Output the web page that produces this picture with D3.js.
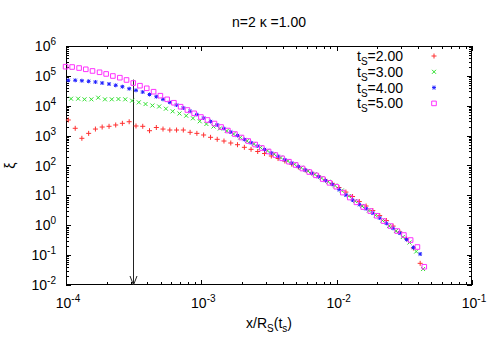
<!DOCTYPE html>
<html>
<head>
<meta charset="utf-8">
<script src="https://cdn.jsdelivr.net/npm/d3@7/dist/d3.min.js"></script>
<style>
    body { margin: 0; background: #fff; }
    text { font-family: "Liberation Sans", Arial, Helvetica, sans-serif; fill: #000; }
</style>
</head>
<body>
<div id="chart"></div>
<script>
// x/R_S(t_s) bins (each run has its own scaling)
const xsRB = [1.04e-4, 1.17e-4, 1.31e-4, 1.47e-4, 1.65e-4, 1.85e-4, 2.08e-4, 2.33e-4, 2.61e-4, 2.93e-4,
    3.29e-4, 3.69e-4, 4.14e-4, 4.65e-4, 5.21e-4, 5.85e-4, 6.56e-4, 7.36e-4, 8.26e-4, 9.27e-4,
    1.04e-3, 1.17e-3, 1.31e-3, 1.47e-3, 1.65e-3, 1.85e-3, 2.08e-3, 2.33e-3, 2.61e-3, 2.93e-3,
    3.29e-3, 3.69e-3, 4.14e-3, 4.65e-3, 5.21e-3, 5.85e-3, 6.56e-3, 7.36e-3, 8.26e-3, 9.27e-3,
    1.04e-2, 1.17e-2, 1.31e-2, 1.47e-2, 1.65e-2, 1.85e-2, 2.08e-2, 2.33e-2, 2.61e-2, 2.93e-2,
    3.29e-2, 3.69e-2, 4.14e-2];
const xsG = [1.09e-4, 1.23e-4, 1.37e-4, 1.54e-4, 1.73e-4, 1.94e-4, 2.18e-4, 2.44e-4, 2.74e-4, 3.08e-4,
    3.45e-4, 3.87e-4, 4.35e-4, 4.88e-4, 5.47e-4, 6.14e-4, 6.89e-4, 7.73e-4, 8.67e-4, 9.73e-4,
    1.09e-3, 1.23e-3, 1.37e-3, 1.54e-3, 1.73e-3, 1.94e-3, 2.18e-3, 2.44e-3, 2.74e-3, 3.08e-3,
    3.45e-3, 3.87e-3, 4.35e-3, 4.88e-3, 5.47e-3, 6.14e-3, 6.89e-3, 7.73e-3, 8.67e-3, 9.73e-3,
    1.09e-2, 1.23e-2, 1.37e-2, 1.54e-2, 1.73e-2, 1.94e-2, 2.18e-2, 2.44e-2, 2.74e-2, 3.08e-2,
    3.45e-2, 3.87e-2, 4.35e-2];
const xsM = [0.993e-4, 1.11e-4, 1.25e-4, 1.40e-4, 1.57e-4, 1.77e-4, 1.98e-4, 2.22e-4, 2.50e-4, 2.80e-4,
    3.14e-4, 3.52e-4, 3.95e-4, 4.44e-4, 4.98e-4, 5.59e-4, 6.27e-4, 7.03e-4, 7.89e-4, 8.85e-4,
    9.93e-4, 1.11e-3, 1.25e-3, 1.40e-3, 1.57e-3, 1.77e-3, 1.98e-3, 2.22e-3, 2.50e-3, 2.80e-3,
    3.14e-3, 3.52e-3, 3.95e-3, 4.44e-3, 4.98e-3, 5.59e-3, 6.27e-3, 7.03e-3, 7.89e-3, 8.85e-3,
    9.93e-3, 1.11e-2, 1.25e-2, 1.40e-2, 1.57e-2, 1.77e-2, 1.98e-2, 2.22e-2, 2.50e-2, 2.80e-2,
    3.14e-2, 3.52e-2, 3.95e-2, 4.44e-2];

// xi values per run
const xiT2 = [3340, 1760, 813, 1190, 1660, 1940, 2050, 2270, 2580, 2920,
    2100, 2050, 1460, 1870, 1660, 1540, 1540, 1540, 1290, 1190,
    1050, 877, 752, 660, 566, 497, 406, 348, 294, 252,
    208, 171, 141, 112, 89, 70.6, 56, 44.5, 32.7, 24.9,
    18.3, 12.9, 9.16, 6.22, 4.40, 3.11, 2.11, 1.44, 0.94, 0.593,
    0.346, 0.173, 0.0531];
const xiT3 = [17200, 17200, 16400, 16400, 18600, 16400, 16400, 16800, 16400, 14800,
    13000, 11400, 10200, 9440, 7960, 6510, 5500, 4640, 3800, 3020,
    2450, 2020, 1730, 1430, 1130, 865, 660, 524, 400, 310,
    242, 185, 141, 110, 84.3, 65.3, 50.7, 38.1, 28.6, 21.4,
    14.5, 9.51, 6.47, 4.40, 3.11, 2.15, 1.44, 0.94, 0.641, 0.404,
    0.264, 0.132, 0.0342];
const xiT4 = [71100, 71100, 68900, 65800, 62400, 57700, 53400, 48300, 43400, 37200,
    32900, 28800, 23800, 20100, 16400, 13000, 10600, 8400, 6510, 5090,
    3890, 2970, 2270, 1730, 1320, 1010, 741, 579, 449, 343,
    262, 203, 156, 121, 92.5, 70.6, 54.7, 42.1, 31.4, 23.4,
    15.7, 10.3, 6.98, 4.94, 3.57, 2.56, 1.75, 1.16, 0.789, 0.548,
    0.333, 0.179, 0.109];
const xiT5 = [203000, 198000, 183000, 166000, 146000, 132000, 116000, 99100, 86900, 72800,
    57700, 46900, 38400, 29500, 21700, 16400, 12600, 9290, 7200, 5580,
    4200, 3340, 2540, 1940, 1480, 1130, 865, 660, 504, 385,
    294, 224, 174, 134, 104, 79.2, 60.5, 46.9, 35.2, 26.3,
    19.5, 12.4, 8.47, 5.85, 4.07, 2.99, 2.08, 1.38, 0.94, 0.641,
    0.471, 0.320, 0.187, 0.0408];

const runLabels = ["2.00", "3.00", "4.00", "5.00"];
const xTickExps = [-4, -3, -2, -1];
const yTickExps = [-2, -1, 0, 1, 2, 3, 4, 5, 6];
const arrowX = 3.11e-4, arrowYTop = 7.5e4;

let width = 500,
    height = 350,
    margin = {top: 46, right: 28, bottom: 65, left: 66};

let runs = [
    {label: runLabels[0], xs: xsRB, ys: xiT2, color: "#ff3030", symbol: "plus"},
    {label: runLabels[1], xs: xsG, ys: xiT3, color: "#30e030", symbol: "cross"},
    {label: runLabels[2], xs: xsRB, ys: xiT4, color: "#2020ff", symbol: "star"},
    {label: runLabels[3], xs: xsM, ys: xiT5, color: "#ff30ff", symbol: "box"}
];

const svg = d3.select("#chart").append("svg")
    .attr("width", width)
    .attr("height", height);

const x = d3.scaleLog()
    .domain([1e-4, 1e-1])
    .range([margin.left, width - margin.right]);

const y = d3.scaleLog()
    .domain([1e-2, 1e6])
    .range([height - margin.bottom, margin.top]);

function symbolPath(type) {
    if (type == "plus") return "M-2.5,0H2.5M0,-2.5V2.5";
    if (type == "cross") return "M-2,-2L2,2M-2,2L2,-2";
    if (type == "star") return "M-2,0H2M0,-2V2M-1.6,-1.6L1.6,1.6M-1.6,1.6L1.6,-1.6";
    return "M-2.3,-2.3H2.3V2.3H-2.3Z";
}

// ticks: gnuplot style, inside and mirrored
const isMajor = v => Math.abs(Math.log10(v) - Math.round(Math.log10(v))) < 1e-6;
const ticks = svg.append("g").attr("class", "ticks")
    .attr("stroke", "#000").attr("stroke-width", 1);

x.ticks().forEach(v => {
    let len = isMajor(v) ? 5 : 3;
    let px = Math.round(x(v)) + 0.5;
    ticks.append("line").attr("x1", px).attr("x2", px)
        .attr("y1", y.range()[0]).attr("y2", y.range()[0] - len);
    ticks.append("line").attr("x1", px).attr("x2", px)
        .attr("y1", y.range()[1]).attr("y2", y.range()[1] + len);
});
y.ticks().forEach(v => {
    let len = isMajor(v) ? 5 : 3;
    let py = Math.round(y(v)) + 0.5;
    ticks.append("line").attr("y1", py).attr("y2", py)
        .attr("x1", x.range()[0]).attr("x2", x.range()[0] + len);
    ticks.append("line").attr("y1", py).attr("y2", py)
        .attr("x1", x.range()[1]).attr("x2", x.range()[1] - len);
});

// tick labels 10^n
const yLabels = svg.append("g").selectAll("text")
    .data(yTickExps)
    .enter().append("text")
    .attr("x", margin.left - 10)
    .attr("y", d => y(Math.pow(10, d)) + 5)
    .attr("text-anchor", "end")
    .style("font-size", "14px");
yLabels.append("tspan").text("10");
yLabels.append("tspan").attr("dy", -6).style("font-size", "10px").text(d => d);

const xLabels = svg.append("g").selectAll("text")
    .data(xTickExps)
    .enter().append("text")
    .attr("x", d => x(Math.pow(10, d)) + 2)
    .attr("y", height - margin.bottom + 23)
    .attr("text-anchor", "middle")
    .style("font-size", "14px");
xLabels.append("tspan").text("10");
xLabels.append("tspan").attr("dy", -6).style("font-size", "10px").text(d => d);

// frame
svg.append("rect")
    .attr("x", margin.left + 0.5)
    .attr("y", margin.top + 0.5)
    .attr("width", width - margin.left - margin.right - 1)
    .attr("height", height - margin.top - margin.bottom - 1)
    .attr("fill", "none")
    .attr("stroke", "#000");

// arrow
const ax = Math.round(x(arrowX)) + 0.5;
svg.append("line")
    .attr("x1", ax).attr("x2", ax)
    .attr("y1", y(arrowYTop)).attr("y2", y(1e-2))
    .attr("stroke", "#222");
svg.append("path")
    .attr("d", `M${ax - 3.5},${y(1e-2) - 9}L${ax},${y(1e-2)}L${ax + 3.5},${y(1e-2) - 9}`)
    .attr("fill", "none")
    .attr("stroke", "#222");

// points
runs.forEach(r => {
    svg.append("g")
        .selectAll("path")
        .data(r.ys.map((v, i) => [r.xs[i], v]))
        .enter().append("path")
        .attr("transform", d => "translate(" + x(d[0]) + "," + y(d[1]) + ")")
        .attr("d", symbolPath(r.symbol))
        .attr("fill", "none")
        .attr("stroke", r.color)
        .attr("stroke-width", 1);
});

// legend
const legend = svg.append("g").selectAll("g")
    .data(runs)
    .enter().append("g")
    .attr("transform", (d, i) => "translate(0," + (56 + i * 15.8) + ")");
const legendText = legend.append("text")
    .attr("x", 403)
    .attr("y", 5)
    .attr("text-anchor", "end")
    .style("font-size", "14px");
legendText.append("tspan").text("t");
legendText.append("tspan").attr("dy", 4).style("font-size", "10px").text("S");
legendText.append("tspan").attr("dy", -4).text(d => "=" + d.label);
legend.append("path")
    .attr("transform", "translate(434,0)")
    .attr("d", d => symbolPath(d.symbol))
    .attr("fill", "none")
    .attr("stroke", d => d.color)
    .attr("stroke-width", 1);

// titles
svg.append("text")
    .attr("x", (margin.left + width - margin.right) / 2)
    .attr("y", 27)
    .attr("text-anchor", "middle")
    .style("font-size", "14px")
    .text("n=2 \u03ba =1.00");

const xTitle = svg.append("text")
    .attr("x", (margin.left + width - margin.right) / 2)
    .attr("y", 328)
    .attr("text-anchor", "middle")
    .style("font-size", "14px");
xTitle.append("tspan").text("x/R");
xTitle.append("tspan").attr("dy", 4).style("font-size", "10px").text("S");
xTitle.append("tspan").attr("dy", -4).text("(t");
xTitle.append("tspan").attr("dy", 4).style("font-size", "10px").text("s");
xTitle.append("tspan").attr("dy", -4).text(")");

svg.append("text")
    .attr("transform", "translate(15," + ((margin.top + height - margin.bottom) / 2) + ") rotate(-90)")
    .attr("text-anchor", "middle")
    .style("font-size", "14px")
    .text("\u03be");
</script>
</body>
</html>
